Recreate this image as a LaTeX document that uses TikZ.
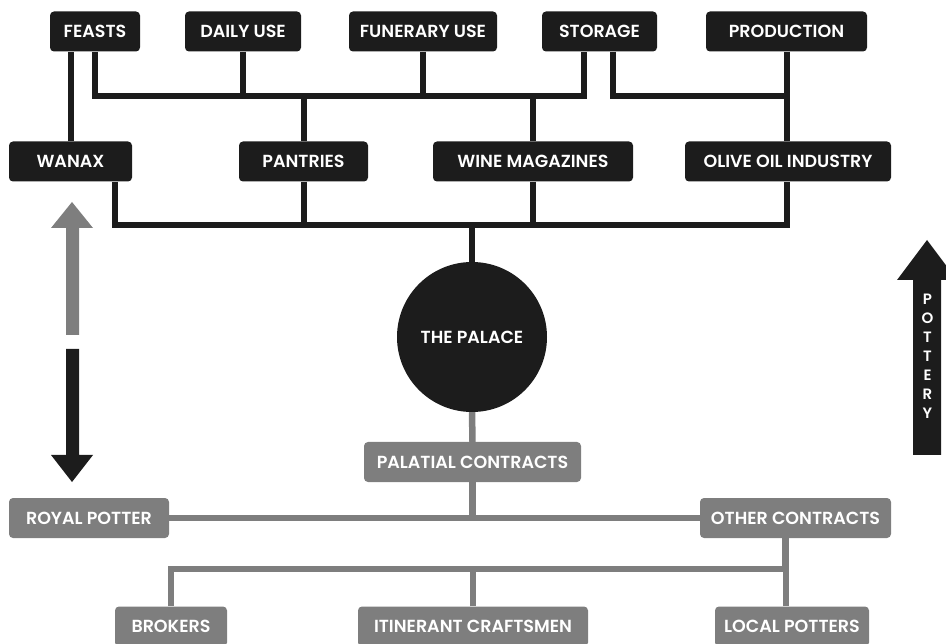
\documentclass[tikz,border=0pt]{standalone}
\usepackage{fontspec}
\setmainfont{Poppins}[BoldFont={Poppins SemiBold}]
\usetikzlibrary{calc}
\definecolor{ink}{HTML}{1C1C1C}
\definecolor{mid}{HTML}{7E7E7E}
\begin{document}
\begin{tikzpicture}[x=1pt,y=-1pt,
  box/.style={fill=ink,rounded corners=4pt,text=white,font=\bfseries\fontsize{17.5}{20}\selectfont,minimum height=40pt,inner sep=0pt},
  gbox/.style={box,fill=mid},
  blk/.style={draw=ink,line width=6pt,line join=miter},
  gry/.style={draw=mid,line width=6.5pt,line join=miter}]
\useasboundingbox (0,0) rectangle (946,644);
% top row
\node[box,minimum width=90pt]  (feasts)   at (95,31.5)  {FEASTS};
\node[box,minimum width=116pt] (daily)    at (243,31.5) {DAILY USE};
\node[box,minimum width=148pt] (funerary) at (423,31.5) {FUNERARY USE};
\node[box,minimum width=115pt] (storage)  at (599.5,31.5) {STORAGE};
\node[box,minimum width=161pt] (production) at (786.5,31.5) {PRODUCTION};
% middle row
\node[box,minimum width=123pt] (wanax)    at (70.5,161.5) {WANAX};
\node[box,minimum width=129pt] (pantries) at (303.5,161.5) {PANTRIES};
\node[box,minimum width=200pt] (wine)     at (533,161.5) {WINE MAGAZINES};
\node[box,minimum width=206pt] (olive)    at (788,161.5) {OLIVE OIL INDUSTRY};
% palace
\node[circle,fill=ink,minimum size=150pt,inner sep=0pt,text=white,font=\bfseries\fontsize{17.5}{20}\selectfont] (palace) at (472,337) {THE PALACE};
% gray
\node[gbox,minimum width=217pt] (pc) at (472.5,462) {PALATIAL CONTRACTS};
\node[gbox,minimum width=160pt] (rp) at (89,518) {ROYAL POTTER};
\node[gbox,minimum width=191pt] (oc) at (795.5,518) {OTHER CONTRACTS};
\node[gbox,minimum width=112pt] (brokers) at (171,626.5) {BROKERS};
\node[gbox,minimum width=230pt] (ic) at (473,626.5) {ITINERANT CRAFTSMEN};
\node[gbox,minimum width=154pt] (lp) at (792,626.5) {LOCAL POTTERS};
\coordinate (b1) at (0,96);
\coordinate (b3) at (0,225);
\coordinate (b4) at (0,569);
% black connectors
\draw[blk] (wanax.north) -- (wanax.north |- feasts.south);
\draw[blk] (feasts.south) |- ([xshift=-15.5pt]storage.south |- b1) -- ([xshift=-15.5pt]storage.south);
\draw[blk] (daily.south) -- (daily.south |- b1);
\draw[blk] (funerary.south) -- (funerary.south |- b1);
\draw[blk] (pantries.north) -- (pantries.north |- b1);
\draw[blk] (wine.north) -- (wine.north |- b1);
\draw[blk] ([xshift=13.5pt]storage.south) |- (production.south |- b1);
\draw[blk] (production.south) -- (production.south |- olive.north);
\draw[blk] ([xshift=44pt]wanax.south) |- ([xshift=-1pt]olive.south |- b3) -- ([xshift=-1pt]olive.south);
\draw[blk] (pantries.south) -- (pantries.south |- b3);
\draw[blk] (wine.south) -- (wine.south |- b3);
\draw[blk] (palace.north) -- (palace.north |- b3);
% gray connectors
\draw[gry] (palace.south) -- (pc.north);
\draw[gry] (pc.south) -- (pc.south |- rp.east);
\draw[gry] (rp.east) -- (oc.west);
\draw[gry] ([xshift=-10pt]oc.south) |- (brokers.north |- b4) -- (brokers.north);
\draw[gry] (ic.north) -- (ic.north |- b4);
\draw[gry] ([xshift=-6pt]lp.north) -- ([xshift=-6pt]lp.north |- b4);
% arrows
\fill[mid] (66,335) -- (66,228) -- (51,228) -- (72,202) -- (93,228) -- (79,228) -- (79,335) -- cycle;
\fill[ink] (66,349) -- (66,455) -- (51,455) -- (72,482) -- (93,455) -- (79,455) -- (79,349) -- cycle;
\fill[ink] (913,455) -- (913,280) -- (897,280) -- (927,240) -- (957,280) -- (941,280) -- (941,455) -- cycle;
\node[text=white,align=center,font=\bfseries\fontsize{15}{19}\selectfont,inner sep=0pt] (pottery) at (927.5,356) {P\\O\\T\\T\\E\\R\\Y};
\end{tikzpicture}
\end{document}
